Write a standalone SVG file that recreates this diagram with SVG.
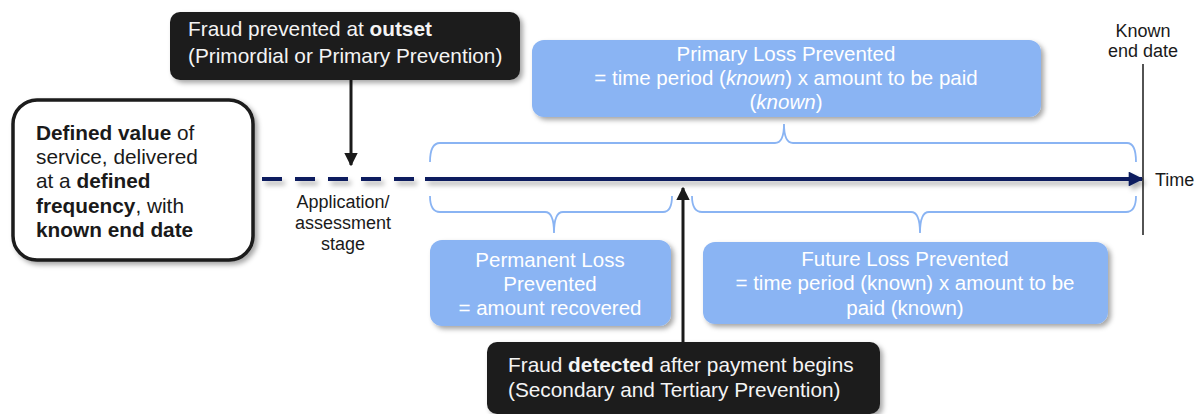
<svg xmlns="http://www.w3.org/2000/svg" width="1203" height="414" viewBox="0 0 1203 414">
  <style>
    text { font-family: "Liberation Sans", Arial, sans-serif; }
    .dark { fill: #1e1e1e; }
    .dark-text { fill: #f4f4f4; font-size: 20.8px; }
    .blue { fill: #8ab4f3; }
    .blue-text { fill: #ffffff; font-size: 20.5px; text-anchor: middle; }
    .body { fill: #1a1a1a; font-size: 20.8px; }
    .plain { fill: #1a1a1a; font-size: 18px; text-anchor: middle; }
    .brace { fill: none; stroke: #8ab4f3; stroke-width: 1.8; }
    .pointer { stroke: #1a1a1a; stroke-width: 3; fill: none; }
    .b { font-weight: bold; }
  </style>
  <defs>
    <filter id="shadow" x="-10%" y="-20%" width="130%" height="160%">
      <feDropShadow dx="3" dy="3" stdDeviation="2.5" flood-color="#000" flood-opacity="0.35"/>
    </filter>
    <filter id="lineShadow" filterUnits="userSpaceOnUse" x="0" y="0" width="1203" height="414">
      <feDropShadow dx="3" dy="4" stdDeviation="2.5" flood-color="#000" flood-opacity="0.3"/>
    </filter>
    <marker id="blackHead" viewBox="0 0 10 10" refX="9" refY="5" markerWidth="4.5" markerHeight="4.5" orient="auto" markerUnits="strokeWidth">
      <path d="M0,0 L10,5 L0,10 Z" fill="#1a1a1a"/>
    </marker>
    <marker id="navyHead" viewBox="0 0 10 10" refX="9" refY="5" markerWidth="4.3" markerHeight="3.7" orient="auto" markerUnits="strokeWidth">
      <path d="M0,0 L10,5 L0,10 Z" fill="#0c1f5e"/>
    </marker>
  </defs>

  <rect width="1203" height="414" fill="#ffffff"/>

  <!-- connectors: timeline, braces, pointers -->
  <g id="connectors">
    <g filter="url(#lineShadow)">
      <line x1="262" y1="179" x2="425" y2="179" stroke="#0c1f5e" stroke-width="4" stroke-dasharray="20 13"/>
      <line x1="425" y1="179" x2="1142" y2="179" stroke="#0c1f5e" stroke-width="4" marker-end="url(#navyHead)"/>
    </g>
    <line x1="1143" y1="64" x2="1143" y2="235" stroke="#1a1a1a" stroke-width="1.5"/>
    <path class="brace" d="M430,162 Q430,143 440,143 H775 Q784,143 784,124 Q784,143 793,143 H1127 Q1136,143 1136,162"/>
    <path class="brace" d="M430,196 Q430,212 440,212 H545 Q554,212 554,233 Q554,212 563,212 H663 Q672,212 672,196"/>
    <path class="brace" d="M692,196 Q692,212 702,212 H911 Q920,212 920,233 Q920,212 929,212 H1126 Q1136,212 1136,196"/>
    <line class="pointer" x1="351" y1="80" x2="351" y2="165" marker-end="url(#blackHead)"/>
    <line class="pointer" x1="683" y1="343" x2="683" y2="188" marker-end="url(#blackHead)"/>
  </g>

  <g id="service-definition">
    <rect x="13" y="100" width="240" height="160" rx="24" fill="#ffffff" stroke="#1a1a1a" stroke-width="3.5" filter="url(#shadow)"/>
    <text class="body" x="36" y="140"><tspan class="b">Defined value</tspan> of</text>
    <text class="body" x="36" y="164">service, delivered</text>
    <text class="body" x="36" y="188">at a <tspan class="b">defined</tspan></text>
    <text class="body" x="36" y="213"><tspan class="b">frequency</tspan>, with</text>
    <text class="body b" x="36" y="237">known end date</text>
  </g>

  <g id="fraud-outset">
    <rect class="dark" x="170" y="12" width="350" height="68" rx="10" filter="url(#shadow)"/>
    <text class="dark-text" x="188" y="36">Fraud prevented at <tspan class="b">outset</tspan></text>
    <text class="dark-text" x="188" y="63">(Primordial or Primary Prevention)</text>
  </g>

  <g id="application-stage">
    <text class="plain" x="343" y="208">Application/</text>
    <text class="plain" x="343" y="229">assessment</text>
    <text class="plain" x="343" y="250">stage</text>
  </g>

  <g id="primary-loss">
    <rect class="blue" x="532" y="40" width="509" height="77" rx="12" filter="url(#shadow)"/>
    <text class="blue-text" x="786" y="61">Primary Loss Prevented</text>
    <text class="blue-text" x="786" y="85">= time period (<tspan font-style="italic">known</tspan>) x amount to be paid</text>
    <text class="blue-text" x="786" y="109">(<tspan font-style="italic">known</tspan>)</text>
  </g>

  <g id="end-date">
    <text class="plain" x="1143" y="37">Known</text>
    <text class="plain" x="1143" y="57">end date</text>
  </g>

  <g id="time-label">
    <text x="1155" y="186" font-size="18" fill="#1a1a1a">Time</text>
  </g>

  <g id="permanent-loss">
    <rect class="blue" x="430" y="240" width="241" height="86" rx="12" filter="url(#shadow)"/>
    <text class="blue-text" x="550" y="267">Permanent Loss</text>
    <text class="blue-text" x="550" y="291">Prevented</text>
    <text class="blue-text" x="550" y="315">= amount recovered</text>
  </g>

  <g id="future-loss">
    <rect class="blue" x="703" y="242" width="405" height="82" rx="12" filter="url(#shadow)"/>
    <text class="blue-text" x="905" y="266">Future Loss Prevented</text>
    <text class="blue-text" x="905" y="290">= time period (known) x amount to be</text>
    <text class="blue-text" x="905" y="315">paid (known)</text>
  </g>

  <g id="fraud-detected">
    <rect class="dark" x="487" y="342" width="393" height="72" rx="10" filter="url(#shadow)"/>
    <text class="dark-text" x="508" y="372">Fraud <tspan class="b">detected</tspan> after payment begins</text>
    <text class="dark-text" x="508" y="397">(Secondary and Tertiary Prevention)</text>
  </g>
</svg>
